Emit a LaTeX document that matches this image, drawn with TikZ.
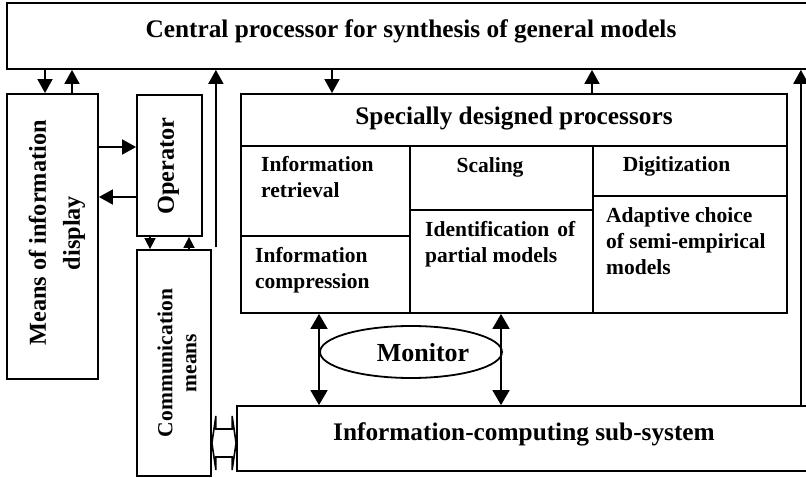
\documentclass[tikz,border=0pt]{standalone}
\usepackage{fontspec}
\setmainfont{Liberation Serif}
\usetikzlibrary{arrows.meta,calc,shapes.geometric}
\begin{document}
\begin{tikzpicture}[x=1pt,y=-1pt,
  box/.style={draw,line width=1.8pt,rectangle,inner sep=0pt},
  lbl/.style={inner sep=0pt,font=\fontsize{21.5}{26}\selectfont\bfseries,align=left},
  big/.style={inner sep=0pt,font=\fontsize{25.3}{30}\selectfont\bfseries},
  side/.style={inner sep=0pt,rotate=90,align=center},
  arr/.style={line width=1.8pt,-{Triangle[length=14pt,width=15pt]}},
  sarr/.style={line width=1.6pt,-{Triangle[length=11pt,width=11pt]}},
  darr/.style={line width=1.8pt,{Triangle[length=15pt,width=17pt]}-{Triangle[length=15pt,width=17pt]}}]
\useasboundingbox (0,0) rectangle (806,478);
\clip (0,0) rectangle (806,478);

% top processor (runs off the right edge)
\node[box,minimum width=812pt,minimum height=66pt] (central) at (413,36) {};
\node[big,anchor=base] (centraltxt) at (411,38) {Central processor for synthesis of general models};

% left column
\node[box,minimum width=91pt,minimum height=285pt] (means) at (52.5,236.5) {};
\node[side,font=\fontsize{24.3}{34}\selectfont\bfseries] (meanstxt) at (57,233) {Means of information\\display};

\node[box,minimum width=65pt,minimum height=141pt] (oper) at (169.5,165.5) {};
\node[side,font=\fontsize{24.3}{28}\selectfont\bfseries] (opertxt) at (168.5,166) {Operator};

\node[box,minimum width=74pt,minimum height=226pt] (comm) at (174,363) {};
\node[side,font=\fontsize{21.5}{24}\selectfont\bfseries] (commtxt) at (177,363) {Communication\\means};

% specialised processors block
\node[box,minimum width=546pt,minimum height=52pt] (spec) at (514,120) {};
\node[big,anchor=base] (spectxt) at (514,125) {Specially designed processors};

\node[box,minimum width=169pt,minimum height=90pt]  (retr)  at (325.5,191) {};
\node[box,minimum width=169pt,minimum height=77pt]  (compr) at (325.5,274.5) {};
\node[box,minimum width=183pt,minimum height=64pt]  (scal)  at (501.5,178) {};
\node[box,minimum width=183pt,minimum height=103pt] (ident) at (501.5,261.5) {};
\node[box,minimum width=194pt,minimum height=50pt]  (digit) at (690,171) {};
\node[box,minimum width=194pt,minimum height=117pt] (adapt) at (690,254.5) {};

% base anchor of a multi-line label sits on its last line
\node[lbl,anchor=base west] (retrtxt)  at (261,198) {Information\\retrieval};
\node[lbl,anchor=base west] (comprtxt) at (255,289) {Information\\compression};
\node[lbl,anchor=base]      (scaltxt)  at (490,173) {Scaling};
\node[lbl,anchor=base west] (identtxt) at (425,263) {Identification\hspace{8pt}of\\partial models};
\node[lbl,anchor=base]      (digittxt) at (676.5,172) {Digitization};
\node[lbl,anchor=base west] (adapttxt) at (606,275) {Adaptive choice\\of semi-empirical\\models};

% monitor
\node[draw,ellipse,line width=1.8pt,minimum width=182pt,minimum height=52pt,inner sep=0pt] (mon) at (411,352) {};
\node[inner sep=0pt,anchor=base,font=\fontsize{26}{30}\selectfont\bfseries] (montxt) at (423,361) {Monitor};

% bottom sub-system (runs off the right edge)
\node[box,minimum width=576pt,minimum height=65pt] (info) at (525,438.5) {};
\node[big,anchor=base] (infotxt) at (524,440) {Information-computing sub-system};

% connectors
\draw[arr] (central.south -| 45,0) -- (means.north -| 45,0);
\draw[arr] (means.north -| 72,0) -- (central.south -| 72,0);
\draw[arr] (means.east |- 0,147) -- (oper.west |- 0,147);
\draw[arr] (oper.west |- 0,197) -- (means.east |- 0,197);
\draw[sarr] (oper.south -| 150,0) -- (comm.north -| 150,0);
\draw[sarr] (comm.north -| 189,0) -- (oper.south -| 189,0);
\coordinate (tap) at ($(comm.north east)+(4,-2)$);
\draw[arr] (tap) -- (central.south -| tap);
\draw[arr] (central.south -| 332,0) -- (spec.north -| 332,0);
\draw[arr] (spec.north -| 592,0) -- (central.south -| 592,0);
\coordinate (rtap) at ($(info.north east)+(-13,0)$);
\draw[arr] (rtap) -- (central.south -| rtap);
\draw[darr] (compr.south -| 319,0) -- (info.north -| 319,0);
\draw[darr] (ident.south -| 501,0) -- (info.north -| 501,0);

% wide two-way link between communication means and the sub-system
\coordinate (lkL) at (comm.east |- 0,443);
\coordinate (lkR) at (info.west |- 0,443);
\draw[line width=1.6pt,fill=white,miter limit=4]
  (lkL) -- ++(4,-27) -- ++(0,13) -- ($(lkR)+(-4,-14)$) -- ++(0,-13) -- (lkR)
  -- ++(-4,27) -- ++(0,-13) -- ($(lkL)+(4,14)$) -- ++(0,13) -- cycle;
\end{tikzpicture}
\end{document}
